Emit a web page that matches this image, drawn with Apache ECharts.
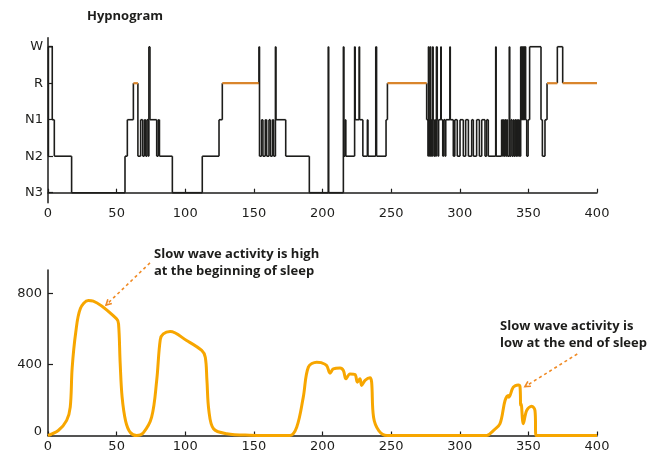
<!DOCTYPE html>
<html>
<head>
<meta charset="utf-8">
<script src="https://cdn.jsdelivr.net/npm/echarts@6/dist/echarts.min.js"></script>
<style>
  html, body { margin: 0; padding: 0; background: #fff; }
  #chart { width: 660px; height: 455px; }
</style>
</head>
<body>
<div id="chart"></div>
<script>
// stages, bottom to top
const stageNames = ['N3', 'N2', 'N1', 'R', 'W']

// hypnogram: time (min) where each stage starts
const hypTime = [
  0, 0.3, 3.1, 4.6, 17.2, 56.1, 57.8, 62.2, 65.5, 67.5,
  69.0, 70.2, 71.2, 72.1, 73.0, 73.5, 74.3, 79.2, 80.3, 81.2,
  90.6, 112.4, 124.6, 127.0, 153.7, 154.1, 155.6, 156.6, 158.3, 159.3,
  161.0, 162.0, 163.5, 164.4, 165.7, 166.1,
  173.2, 190.4, 204.2, 204.5, 215.2, 215.6, 216.5, 217.0, 223.4, 223.8,
  226.7, 227.0, 229.4, 232.7, 233.1, 238.8, 239.4, 246.3, 247.3, 275.9,
  276.9, 277.2, 277.6, 278.0, 278.4, 278.8, 279.2, 279.6, 280.2, 280.6,
  281.2, 281.8, 282.4, 283.0, 283.6, 284.2, 284.6, 286.2, 286.5, 287.6,
  288.3, 289.3, 289.8, 292.8, 293.1, 295.3, 296.4, 298.2, 300.2, 302.6,
  304.3, 306.3, 308.7, 309.9, 312.3, 314.3, 316.0, 318.4, 319.6, 320.8,
  326.2, 326.5, 330.5, 331.2, 331.8, 332.4, 333.0, 333.6, 334.2, 334.8,
  336.1, 336.4, 337.3, 338.1, 339.0, 339.6, 340.3, 340.9, 341.5, 342.1,
  342.7, 343.4, 344.4, 344.8, 345.2, 345.6, 346.0, 346.4, 346.8, 347.2,
  347.6, 348.0, 348.8, 349.8, 350.9, 359.2, 360.2, 362.1, 363.6, 371.1,
  375.0, 400
]
const hypStage = [
  'N2', 'W', 'N1', 'N2', 'N3', 'N2', 'N1', 'R', 'N2', 'N1',
  'N2', 'N1', 'N2', 'N1', 'N2', 'W', 'N1', 'N2', 'N1', 'N2',
  'N3', 'N2', 'N1', 'R', 'W', 'N2', 'N1', 'N2', 'N1', 'N2',
  'N1', 'N2', 'N1', 'N2', 'W', 'N1',
  'N2', 'N3', 'W', 'N3', 'W', 'N2', 'N1', 'N2', 'W', 'N1',
  'W', 'N1', 'N2', 'N1', 'N2', 'W', 'N2', 'N1', 'R', 'N1',
  'N2', 'W', 'N1', 'N2', 'W', 'N2', 'N1', 'N2', 'W', 'N1',
  'N2', 'N1', 'N2', 'W', 'N1', 'N2', 'N1', 'W', 'N1', 'N2',
  'N1', 'N2', 'N1', 'W', 'N1', 'N2', 'N1', 'N2', 'N1', 'N2',
  'N1', 'N2', 'N1', 'N2', 'N1', 'N2', 'N1', 'N2', 'N1', 'N2',
  'W', 'N2', 'N1', 'N2', 'N1', 'N2', 'N1', 'N2', 'N1', 'N2',
  'W', 'N2', 'N1', 'N2', 'N1', 'N2', 'N1', 'N2', 'N1', 'N2',
  'N1', 'N2', 'W', 'N1', 'W', 'N1', 'W', 'N1', 'W', 'N1',
  'W', 'N1', 'N2', 'N1', 'W', 'N1', 'N2', 'N1', 'R', 'W',
  'R', 'R'
]

// slow wave activity
const swaTime = [
  0, 7.5, 13.6, 16.2, 17.6, 20.2, 23.6, 29.4, 33, 50,
  51.4, 52.6, 54, 56.6, 60, 64.6, 69.4, 75.5, 79.2, 81.8,
  84, 89, 101, 112, 114.6, 115.8, 117.2, 120.6, 130.2, 147,
  176, 181.2, 186, 189.7, 195.8, 199, 203, 205.5, 207.9, 212.8,
  215.2, 217.1, 220, 223.7, 225.4, 227.3, 228.5, 231, 234.6, 235.8,
  237.2, 241, 247, 319.6, 324.5, 329.3, 333, 335.4, 335.8, 339,
  342.7, 343.9, 344.4, 344.7, 346.3, 348.8, 352.4, 354.8, 355.6, 400
]
const swaValue = [
  0, 28, 85, 160, 380, 580, 715, 760, 757, 657,
  629, 404, 216, 80, 17, 0, 15, 103, 310, 540,
  572, 585, 535, 479, 441, 310, 141, 38, 10, 2,
  0, 47, 216, 385, 413, 410, 394, 351, 375, 380,
  366, 319, 347, 343, 300, 319, 282, 310, 325, 300,
  103, 28, 0, 0, 28, 66, 197, 225, 216, 272,
  285, 275, 169, 178, 66, 141, 165, 141, 0, 0
]

const xTicks = [0, 50, 100, 150, 200, 250, 300, 350, 400]
const swaTicks = [0, 400, 800]

const font = 'DejaVu Sans'
const ink = '#1d1d1b'
const remColor = '#d9852c'
const arrowColor = '#f08a24'

// one item per stage period: [start, level, end, next level]
const hypSegments = []
for (let i = 0; i < hypTime.length - 1; i++) {
  const lvl = stageNames.indexOf(hypStage[i])
  const next = stageNames.indexOf(hypStage[i + 1])
  hypSegments.push([hypTime[i], lvl, hypTime[i + 1], next])
}

// horizontal part in stage colour, vertical jump to the next stage in black
function renderStage(params, api) {
  const a = api.coord([api.value(0), api.value(1)])
  const b = api.coord([api.value(2), api.value(1)])
  const c = api.coord([api.value(2), api.value(3)])
  const isRem = api.value(1) === 3
  return {
    type: 'group',
    children: [
      {
        type: 'line',
        shape: { x1: b[0], y1: b[1], x2: c[0], y2: c[1] },
        style: { stroke: ink, lineWidth: 1.6 }
      },
      {
        type: 'line',
        shape: { x1: a[0], y1: a[1], x2: b[0], y2: b[1] },
        style: { stroke: isRem ? remColor : ink, lineWidth: isRem ? 2.2 : 1.6 }
      }
    ]
  }
}

const xAxisBase = {
  type: 'value',
  min: xTicks[0],
  max: xTicks[xTicks.length - 1],
  interval: 50,
  axisLine: { lineStyle: { color: ink, width: 1.5 } },
  axisTick: { inside: true, length: 4, lineStyle: { color: ink, width: 1.2 } },
  axisLabel: { color: ink, fontFamily: font, fontSize: 13, margin: 4 },
  splitLine: { show: false }
}

const option = {
  animation: false,
  title: {
    text: 'Hypnogram',
    left: 82,
    top: 5,
    textStyle: { fontFamily: 'Open Sans', fontWeight: 'bold', fontSize: 13, color: ink }
  },
  grid: [
    { left: 48, right: 63, top: 37.7, bottom: 252.3 },
    { left: 48, right: 63, top: 270, bottom: 19.5 }
  ],
  xAxis: [
    Object.assign({ gridIndex: 0 }, xAxisBase),
    Object.assign({ gridIndex: 1 }, xAxisBase, {
      axisLabel: { color: ink, fontFamily: font, fontSize: 13, margin: 5 }
    })
  ],
  yAxis: [
    {
      gridIndex: 0,
      type: 'value',
      min: -0.274,
      max: 4.247,
      axisLine: { show: true, lineStyle: { color: ink, width: 1.5 } },
      axisTick: {
        show: true, inside: true, length: 5,
        customValues: [0, 1, 2, 3, 4],
        lineStyle: { color: ink, width: 1.2 }
      },
      axisLabel: {
        customValues: [0, 1, 2, 3, 4],
        formatter: (v) => stageNames[Math.round(v)],
        color: ink, fontFamily: font, fontSize: 13, margin: 5
      },
      splitLine: { show: false }
    },
    {
      gridIndex: 1,
      type: 'value',
      min: 0,
      max: 932,
      axisLine: { show: true, lineStyle: { color: ink, width: 1.5 } },
      axisTick: {
        show: true, inside: true, length: 5,
        customValues: swaTicks,
        lineStyle: { color: ink, width: 1.2 }
      },
      axisLabel: {
        customValues: swaTicks,
        // the zero label sits a little above its tick
        formatter: (v) => (v === 0 ? '{z|0}' : String(v)),
        rich: { z: { padding: [0, 0, 7, 0], fontFamily: font, fontSize: 13, color: ink } },
        color: ink, fontFamily: font, fontSize: 13, margin: 6
      },
      splitLine: { show: false }
    }
  ],
  series: [
    {
      type: 'custom',
      xAxisIndex: 0,
      yAxisIndex: 0,
      renderItem: renderStage,
      encode: { x: [0, 2], y: [1, 3] },
      data: hypSegments
    },
    {
      type: 'line',
      xAxisIndex: 1,
      yAxisIndex: 1,
      data: swaTime.map((t, i) => [t, swaValue[i]]),
      smooth: 0.35,
      showSymbol: false,
      lineStyle: { color: '#f7a600', width: 3 }
    }
  ]
}

const myChart = echarts.init(document.getElementById('chart'))
myChart.setOption(option)

// annotations: dashed arrows in data coordinates of the lower chart
const arrows = [
  { from: [74.3, 972], to: [42.3, 735] },
  { from: [385.6, 459], to: [347.5, 275] }
]
const notes = [
  { text: 'Slow wave activity is high\nat the beginning of sleep', left: 154, top: 245 },
  { text: 'Slow wave activity is\nlow at the end of sleep', left: 500, top: 317 }
]

const graphics = []
arrows.forEach((a) => {
  const p0 = myChart.convertToPixel({ gridIndex: 1 }, a.from)
  const p1 = myChart.convertToPixel({ gridIndex: 1 }, a.to)
  const ang = Math.atan2(p1[1] - p0[1], p1[0] - p0[0])
  const len = 6
  const w1 = [p1[0] - len * Math.cos(ang - 0.5), p1[1] - len * Math.sin(ang - 0.5)]
  const w2 = [p1[0] - len * Math.cos(ang + 0.5), p1[1] - len * Math.sin(ang + 0.5)]
  graphics.push({
    type: 'line',
    shape: { x1: p0[0], y1: p0[1], x2: p1[0], y2: p1[1] },
    style: { stroke: arrowColor, lineWidth: 1.6, lineDash: [3, 3] },
    silent: true
  })
  graphics.push({
    type: 'polyline',
    shape: { points: [w1, p1, w2] },
    style: { stroke: arrowColor, lineWidth: 1.6, fill: null },
    silent: true
  })
})
notes.forEach((n) => {
  graphics.push({
    type: 'text',
    left: n.left,
    top: n.top,
    style: {
      text: n.text,
      font: 'bold 13px "Open Sans"',
      lineHeight: 17.7,
      fill: ink
    }
  })
})
myChart.setOption({ graphic: graphics })

window.addEventListener('resize', () => {
  myChart.resize()
})
</script>
</body>
</html>
